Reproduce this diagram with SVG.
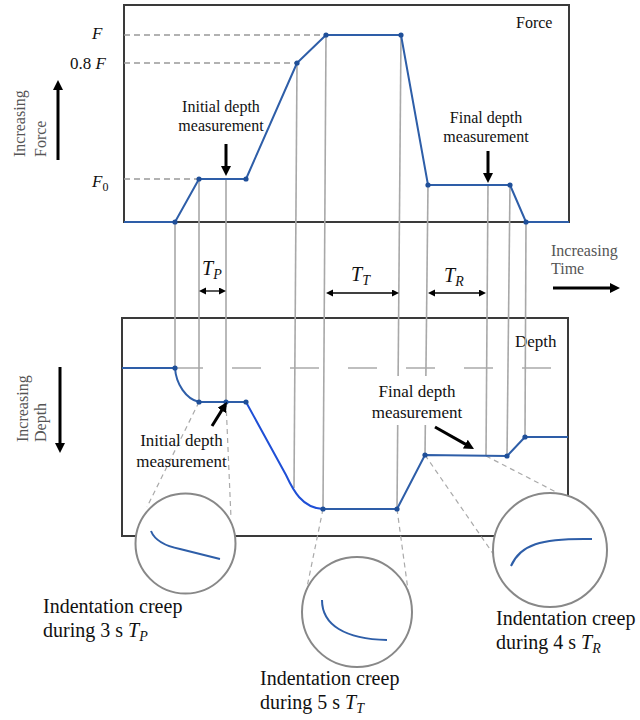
<svg xmlns="http://www.w3.org/2000/svg" width="640" height="720" viewBox="0 0 640 720">
<style>
text{font-family:'Liberation Serif','DejaVu Serif','Times New Roman',serif;fill:#111}
.s16{font-size:16px}
.s17{font-size:17px}
.cap{font-size:20px}
.lab{font-size:16px;fill:#555}
.m{font-style:italic}
.box{fill:none;stroke:#3a3a3a;stroke-width:2}
.curve{fill:none;stroke:#2e5ea8;stroke-width:2;stroke-linejoin:round}
.load{fill:none;stroke:#1f4fd6;stroke-width:2}
.dot{fill:#1f4f99}
.vl{stroke:#a8a8a8;stroke-width:1.6;fill:none}
.dh{stroke:#999;stroke-width:1.3;stroke-dasharray:6 4}
.dd{stroke:#aaa;stroke-width:1.5;stroke-dasharray:29 29}
.dc{stroke:#aaa;stroke-width:1.2;stroke-dasharray:5 4;fill:none}
.ar{stroke:#000;stroke-width:3;fill:none}
.da{stroke:#000;stroke-width:1.3;fill:none}
.circ{fill:#fff;stroke:#888;stroke-width:2}
.zc{fill:none;stroke:#2e5ea8;stroke-width:2}
</style>
<defs>
<marker id="ah" markerUnits="userSpaceOnUse" markerWidth="11" markerHeight="10" refX="1" refY="5" orient="auto">
<path d="M0,0 L10,5 L0,10 z" fill="#000"/>
</marker>
<marker id="sa" markerUnits="userSpaceOnUse" markerWidth="8" markerHeight="8" refX="1" refY="3.5" orient="auto-start-reverse">
<path d="M0,0 L7,3.5 L0,7 z" fill="#000"/>
</marker>
</defs>

<g id="force-plot">
<rect class="box" x="124" y="5" width="445" height="217"/>
<line class="dh" x1="124" y1="35" x2="326" y2="35"/>
<line class="dh" x1="124" y1="63" x2="297" y2="63"/>
<line class="dh" x1="124" y1="179" x2="199" y2="179"/>
<text class="s16" x="516" y="28">Force</text>
<text class="m" font-size="17" x="92" y="39">F</text>
<text font-size="17" x="70" y="69">0.8 <tspan font-style="italic">F</tspan></text>
<text class="m" font-size="17" x="92" y="187">F<tspan font-style="normal" font-size="12" dy="4">0</tspan></text>
</g>

<g id="depth-plot">
<rect class="box" x="122" y="318" width="446" height="218"/>
<line class="dd" x1="174" y1="368" x2="568" y2="368"/>
<text class="s17" x="515" y="347">Depth</text>
</g>

<g id="connectors">
<line class="vl" x1="175" y1="222" x2="175" y2="368"/>
<line class="vl" x1="199" y1="179" x2="199" y2="402"/>
<line class="vl" x1="226" y1="179" x2="226" y2="402"/>
<line class="vl" x1="297" y1="63" x2="294" y2="488"/>
<line class="vl" x1="326" y1="35" x2="323" y2="509"/>
<line class="vl" x1="401" y1="35" x2="397" y2="509"/>
<line class="vl" x1="428" y1="185" x2="425" y2="455"/>
<line class="vl" x1="488" y1="185" x2="486" y2="456"/>
<line class="vl" x1="510" y1="185" x2="507" y2="456"/>
<line class="vl" x1="526" y1="222" x2="525" y2="437"/>
<line class="dc" x1="199" y1="402" x2="147" y2="507"/>
<line class="dc" x1="226" y1="402" x2="231" y2="518"/>
<line class="dc" x1="323" y1="509" x2="305" y2="597"/>
<line class="dc" x1="397" y1="509" x2="408" y2="590"/>
<line class="dc" x1="425" y1="455" x2="494" y2="555"/>
<line class="dc" x1="486" y1="456" x2="556" y2="492"/>
</g>

<g id="force-curve">
<polyline class="curve" points="124,222 175,222 199,179 246,179 297,63 326,35 401,35 428,185 510,185 526,222 569,222"/>
<circle class="dot" cx="175" cy="222" r="2.6"/>
<circle class="dot" cx="199" cy="179" r="2.6"/>
<circle class="dot" cx="246" cy="179" r="2.6"/>
<circle class="dot" cx="297" cy="63" r="2.6"/>
<circle class="dot" cx="326" cy="35" r="2.6"/>
<circle class="dot" cx="401" cy="35" r="2.6"/>
<circle class="dot" cx="428" cy="185" r="2.6"/>
<circle class="dot" cx="510" cy="185" r="2.6"/>
<circle class="dot" cx="526" cy="222" r="2.6"/>
</g>

<g id="depth-curve">
<path class="curve" d="M122,368 L175,368 C176,384 186,399 199,402 L246,402"/>
<path class="load" d="M246,402 L286,475 C293,490 302,508 323,509"/>
<polyline class="curve" points="323,509 397,509 425,455 507,456 525,437 568,437"/>
<circle class="dot" cx="175" cy="368" r="2.6"/>
<circle class="dot" cx="199" cy="402" r="2.6"/>
<circle class="dot" cx="226" cy="402" r="2.6"/>
<circle class="dot" cx="246" cy="402" r="2.6"/>
<circle class="dot" cx="323" cy="509" r="2.6"/>
<circle class="dot" cx="397" cy="509" r="2.6"/>
<circle class="dot" cx="425" cy="455" r="2.6"/>
<circle class="dot" cx="507" cy="456" r="2.6"/>
<circle class="dot" cx="525" cy="437" r="2.6"/>
</g>

<g id="zoom-tp">
<circle class="circ" cx="185.5" cy="543.5" r="50"/>
<path class="zc" d="M151,531 C155,541 165,546 180,549 L220,559"/>
</g>
<g id="zoom-tt">
<circle class="circ" cx="357" cy="612" r="55"/>
<path class="zc" d="M322,600 C322,625 345,639 387,640"/>
</g>
<g id="zoom-tr">
<circle class="circ" cx="550" cy="550" r="57"/>
<path class="zc" d="M511,566 C520,545 540,538 592,539"/>
</g>

<g id="labels">
<text class="s16" text-anchor="middle" x="221" y="112">Initial depth</text>
<text class="s16" text-anchor="middle" x="221" y="131">measurement</text>
<text class="s16" text-anchor="middle" x="486" y="123">Final depth</text>
<text class="s16" text-anchor="middle" x="486" y="142">measurement</text>
<text class="s17" text-anchor="middle" x="181.5" y="446">Initial depth</text>
<text class="s17" text-anchor="middle" x="181.5" y="467">measurement</text>
<rect x="366" y="376" width="102" height="49" fill="#fff"/>
<text class="s17" text-anchor="middle" x="417" y="397">Final depth</text>
<text class="s17" text-anchor="middle" x="417" y="418">measurement</text>
<text class="lab" transform="translate(25,157) rotate(-90)">Increasing</text>
<text class="lab" transform="translate(46,157) rotate(-90)">Force</text>
<text class="lab" transform="translate(28,442) rotate(-90)">Increasing</text>
<text class="lab" transform="translate(46,442) rotate(-90)">Depth</text>
<text class="lab" x="551" y="256">Increasing</text>
<text class="lab" x="551" y="274">Time</text>
<text class="m" font-size="20" x="202" y="275">T<tspan font-size="14" dy="4">P</tspan></text>
<text class="m" font-size="20" x="351" y="281">T<tspan font-size="14" dy="4">T</tspan></text>
<text class="m" font-size="20" x="444" y="282">T<tspan font-size="14" dy="4">R</tspan></text>
<text class="cap" x="43" y="613">Indentation creep</text>
<text class="cap" x="43" y="637">during 3 s <tspan font-style="italic">T</tspan><tspan font-style="italic" font-size="14" dy="4">P</tspan></text>
<text class="cap" x="260" y="685">Indentation creep</text>
<text class="cap" x="260" y="709">during 5 s <tspan font-style="italic">T</tspan><tspan font-style="italic" font-size="14" dy="4">T</tspan></text>
<text class="cap" x="496" y="625">Indentation creep</text>
<text class="cap" x="496" y="649">during 4 s <tspan font-style="italic">T</tspan><tspan font-style="italic" font-size="14" dy="4">R</tspan></text>
</g>

<g id="arrows">
<line class="ar" x1="226" y1="144" x2="226" y2="167" marker-end="url(#ah)"/>
<line class="ar" x1="488" y1="151" x2="488" y2="174" marker-end="url(#ah)"/>
<line class="ar" x1="58" y1="160" x2="58" y2="89" marker-end="url(#ah)"/>
<line class="ar" x1="60" y1="367" x2="60" y2="444" marker-end="url(#ah)"/>
<line class="ar" x1="553" y1="288" x2="611" y2="288" marker-end="url(#ah)"/>
<line class="ar" x1="212" y1="426" x2="222.2" y2="409.6" marker-end="url(#ah)"/>
<line class="ar" x1="435" y1="427" x2="466.2" y2="444.6" marker-end="url(#ah)"/>
<line class="da" x1="205" y1="291" x2="220" y2="291" marker-start="url(#sa)" marker-end="url(#sa)"/>
<line class="da" x1="332" y1="293" x2="393" y2="293" marker-start="url(#sa)" marker-end="url(#sa)"/>
<line class="da" x1="434" y1="293" x2="480" y2="293" marker-start="url(#sa)" marker-end="url(#sa)"/>
</g>
</svg>
